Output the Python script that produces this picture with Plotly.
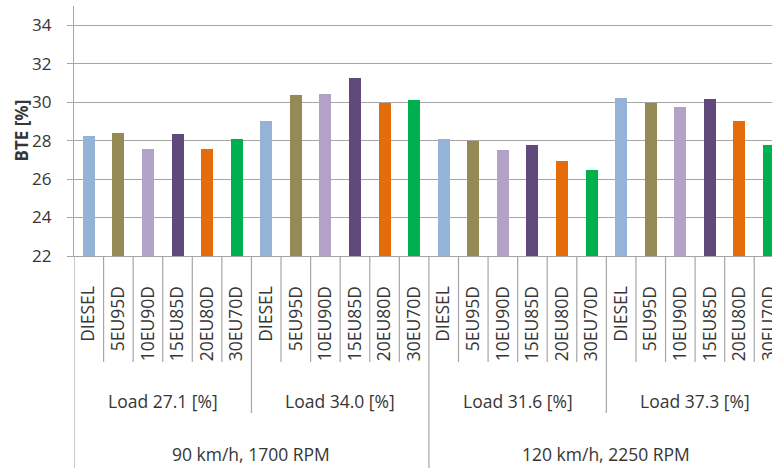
import plotly.graph_objects as go

FUELS = ['DIESEL', '5EU95D', '10EU90D', '15EU85D', '20EU80D', '30EU70D']
LOADS = ['Load 27.1 [%]', 'Load 34.0 [%]', 'Load 31.6 [%]', 'Load 37.3 [%]']
SPEEDS = ['90 km/h, 1700 RPM', '120 km/h, 2250 RPM']

BTE_LOAD_27_1 = [28.22, 28.41, 27.54, 28.36, 27.54, 28.08]
BTE_LOAD_34_0 = [29.03, 30.36, 30.43, 31.25, 29.95, 30.10]
BTE_LOAD_31_6 = [28.08, 27.97, 27.49, 27.75, 26.94, 26.47]
BTE_LOAD_37_3 = [30.24, 29.95, 29.77, 30.17, 29.03, 27.75]

FUEL_COLORS = ['#95b3d7', '#948a54', '#b3a2c7', '#604a7b', '#e46c0a', '#00b050']

FONT = 'Open Sans'
TEXT_COLOR = '#363636'
LINE_COLOR = '#a6a6a6'


def build_bte_chart() -> go.Figure:
    values = BTE_LOAD_27_1 + BTE_LOAD_34_0 + BTE_LOAD_31_6 + BTE_LOAD_37_3
    n_fuels = len(FUELS)
    n_bars = len(values)
    x = list(range(n_bars))
    labels = [FUELS[i % n_fuels] for i in x]
    colors = [FUEL_COLORS[i % n_fuels] for i in x]

    fig = go.Figure()
    fig.add_trace(
        go.Bar(
            x=x,
            y=values,
            marker=dict(color=colors, line=dict(width=0)),
            width=0.405,
            showlegend=False,
        )
    )

    # plot area in pixels: bottom at 256, height 250 -> paper offsets below axis
    plot_h = 250.0

    def below(px):
        return -px / plot_h

    # category dividers (3 levels), drawn at the boundaries between bars
    for b in range(n_bars):
        edge = b - 0.5
        if b % (2 * n_fuels) == 0:
            depth = 212
        elif b % n_fuels == 0:
            depth = 157
        else:
            depth = 106
        fig.add_shape(
            type='line', xref='x', yref='paper',
            x0=edge, x1=edge, y0=0, y1=below(depth),
            line=dict(color=LINE_COLOR, width=1.2),
            layer='above',
        )

    for g, load in enumerate(LOADS):
        fig.add_annotation(
            x=g * n_fuels + (n_fuels - 1) / 2, y=below(145),
            xref='x', yref='paper', text=load, showarrow=False,
            font=dict(family=FONT, size=17.5, color=TEXT_COLOR),
            yanchor='middle',
        )

    for s, speed in enumerate(SPEEDS):
        fig.add_annotation(
            x=s * 2 * n_fuels + (2 * n_fuels - 1) / 2, y=below(198),
            xref='x', yref='paper', text=speed, showarrow=False,
            font=dict(family=FONT, size=17.5, color=TEXT_COLOR),
            yanchor='middle',
        )

    fig.add_annotation(
        x=0, y=0.5, xref='paper', yref='paper', xshift=-53.5,
        text='<b>BTE [%]</b>', textangle=-90, showarrow=False,
        font=dict(family=FONT, size=17, color=TEXT_COLOR),
        xanchor='center', yanchor='middle',
    )

    fig.update_layout(
        width=772,
        height=468,
        margin=dict(l=74, r=0, t=6, b=212),
        paper_bgcolor='white',
        plot_bgcolor='white',
        bargap=0,
        xaxis=dict(
            range=[-0.5, 23.1],
            automargin=False,
            tickmode='array',
            tickvals=x,
            ticktext=labels,
            tickangle=-90,
            ticks='outside',
            ticklen=0,
            ticklabelstandoff=22,
            ticklabeloverflow='allow',
            tickfont=dict(family=FONT, size=17.5, color=TEXT_COLOR),
            showgrid=False,
            zeroline=False,
            showline=True,
            linecolor=LINE_COLOR,
            linewidth=1.2,
        ),
        yaxis=dict(
            range=[22, 35],
            automargin=False,
            tick0=22,
            dtick=2,
            ticks='outside',
            ticklen=6,
            tickcolor=LINE_COLOR,
            ticklabelstandoff=12,
            tickfont=dict(family=FONT, size=17, color=TEXT_COLOR),
            showgrid=True,
            gridcolor=LINE_COLOR,
            gridwidth=1.2,
            zeroline=False,
            showline=True,
            linecolor=LINE_COLOR,
            linewidth=1.2,
        ),
    )

    return fig


fig = build_bte_chart()
fig.write_html(
    'out.html',
    config={'displayModeBar': False},
    post_script="document.body.style.margin='0';document.body.style.overflow='hidden';",
)
